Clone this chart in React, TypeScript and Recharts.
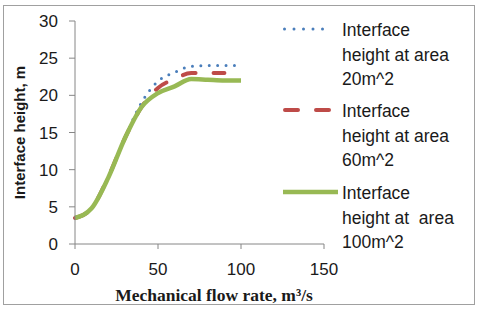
import { LineChart, Line, XAxis, YAxis, Legend } from "recharts";

const flow = [0, 10, 20, 30, 40, 50, 60, 70, 80, 90, 100];
const area20 = [3.5, 4.8, 9.0, 14.3, 19.0, 21.9, 23.1, 23.9, 24.0, 24.0, 24.0];
const area60 = [3.5, 4.8, 9.0, 14.2, 18.4, 21.0, 22.2, 23.0, 23.0, 23.0, null];
const area100 = [3.5, 4.8, 8.9, 14.2, 18.4, 20.3, 21.2, 22.2, 22.1, 22.0, 22.0];

const xTicks = [0, 50, 100, 150];
const yTicks = [0, 5, 10, 15, 20, 25, 30];

const legendLines = [
  ["Interface", "height at area", "20m^2"],
  ["Interface", "height at area", "60m^2"],
  ["Interface", "height at  area", "100m^2"],
];

const data = flow.map((f, i) => ({ flow: f, a20: area20[i], a60: area60[i], a100: area100[i] }));

const BLUE = "#4A7EBB";
const RED = "#BE4B48";
const GREEN = "#98B954";
const AXIS = "#868686";
const FONT = "'Liberation Sans', Arial, sans-serif";

const tickStyle = { fontSize: 17, fill: "#1a1a1a", fontFamily: FONT };

function LegendBox() {
  const rows = [
    { y: 29, stroke: BLUE, w: 3, dash: "0 9.5", cap: "round" as const, x1: 4.5, x2: 52 },
    { y: 110, stroke: RED, w: 4, dash: "13 18", cap: "round" as const, x1: 5, x2: 49 },
    { y: 192, stroke: GREEN, w: 4.5, dash: undefined, cap: "butt" as const, x1: 3, x2: 58 },
  ];
  const base = [36, 117, 199];
  return (
    <svg width={200} height={260} style={{ display: "block" }}>
      {rows.map((r, i) => (
        <g key={i}>
          <line x1={r.x1} x2={r.x2} y1={r.y} y2={r.y} stroke={r.stroke} strokeWidth={r.w} strokeDasharray={r.dash} strokeLinecap={r.cap} />
          {legendLines[i].map((t, j) => (
            <text key={j} x={62} y={base[i] + j * 24.5} fontSize={17.5} fill="#1a1a1a" fontFamily={FONT} style={{ whiteSpace: "pre" }}>
              {t}
            </text>
          ))}
        </g>
      ))}
    </svg>
  );
}

export default function App() {
  return (
    <div style={{ position: "absolute", left: 0, top: 0, width: 480, height: 312, background: "#fff" }}>
      <div style={{ position: "absolute", left: 3, top: 5, width: 470, height: 298, border: "1px solid #a0a0a0" }} />
      <LineChart width={480} height={312} data={data} margin={{ top: 21, right: 156, left: 5, bottom: 28 }}>
        <XAxis
          dataKey="flow"
          type="number"
          domain={[0, 150]}
          ticks={xTicks}
          tick={tickStyle}
          tickSize={5}
          tickMargin={14}
          height={40}
          axisLine={{ stroke: AXIS }}
          tickLine={{ stroke: AXIS }}
          label={{
            content: () => (
              <text x={214} y={301} textAnchor="middle" fontSize={17.5} fontWeight="bold" fontFamily="'Liberation Serif', 'Times New Roman', serif" fill="#1a1a1a">
                Mechanical flow rate, m³/s
              </text>
            ),
          }}
        />
        <YAxis
          type="number"
          domain={[0, 30]}
          ticks={yTicks}
          tick={tickStyle}
          tickSize={6}
          tickMargin={11}
          width={70}
          axisLine={{ stroke: AXIS }}
          tickLine={{ stroke: AXIS }}
          label={{
            content: () => (
              <text x={25} y={132.5} transform="rotate(-90, 25, 132.5)" textAnchor="middle" fontSize={15} fontWeight="bold" fontFamily={FONT} fill="#1a1a1a">
                Interface height, m
              </text>
            ),
          }}
        />
        <Legend
          layout="vertical"
          align="center"
          verticalAlign="middle"
          wrapperStyle={{ left: 280, top: 0, width: 200 }}
          content={() => <LegendBox />}
        />
        <Line dataKey="a20" name="Interface height at area 20m^2" type="monotone" stroke={BLUE} strokeWidth={3} strokeDasharray="0 8.4" strokeLinecap="round" dot={false} activeDot={false} isAnimationActive={false} />
        <Line dataKey="a60" name="Interface height at area 60m^2" type="monotone" stroke={RED} strokeWidth={4} strokeDasharray="13 18" strokeLinecap="round" dot={false} activeDot={false} isAnimationActive={false} />
        <Line dataKey="a100" name="Interface height at  area 100m^2" type="monotone" stroke={GREEN} strokeWidth={4.5} dot={false} activeDot={false} isAnimationActive={false} />
      </LineChart>
    </div>
  );
}
